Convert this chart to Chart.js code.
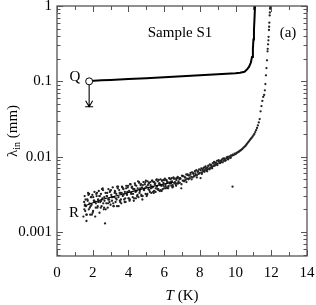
<!DOCTYPE html>
<html>
<head>
<meta charset="utf-8">
<script src="https://cdn.jsdelivr.net/npm/chart.js@4/dist/chart.umd.min.js"></script>
<style>
body { margin: 0; background: #fff; }
</style>
</head>
<body>
<canvas id="chart" width="316" height="305"></canvas>
<script>
// curve Q (upper)
const qTemps = [1.85, 2.5, 3, 4, 5, 6, 7, 8, 9, 9.5, 10, 10.25, 10.5, 10.62, 10.75, 10.85, 10.92, 10.97, 11.0, 11.03, 11.06, 11.09];
const qLambda = [0.101, 0.103, 0.104, 0.107, 0.110, 0.113, 0.117, 0.120, 0.124, 0.126, 0.128, 0.130, 0.134, 0.142, 0.155, 0.175, 0.21, 0.27, 0.36, 0.48, 0.68, 1.0];

// open circle + arrow at the start of Q
const qMarkT = [1.8];
const qMarkL = [0.1];
const arrowTo = 0.046;

// curve R (lower), scattered points, run A
const rTempsA = [
  1.48, 1.52, 1.55, 1.58, 1.62, 1.65, 1.70, 1.74, 1.78, 1.82, 1.86, 1.90, 1.94,
  1.98, 2.02, 2.06, 2.10, 2.14, 2.18, 2.22, 2.26, 2.30, 2.34, 2.38, 2.42,
  2.46, 2.50, 2.54, 2.58, 2.62, 2.66, 2.69, 2.72, 2.76, 2.80, 2.84, 2.88, 2.92,
  2.96, 3.00, 3.04, 3.08, 3.12, 3.16, 3.20, 3.24, 3.28, 3.32, 3.36, 3.40, 3.44,
  3.48, 3.52, 3.56, 3.60, 3.64, 3.68, 3.72, 3.76, 3.80, 3.84, 3.88, 3.92,
  3.96, 4.00, 4.04, 4.08, 4.12, 4.16, 4.20, 4.24, 4.28, 4.32, 4.36, 4.40,
  4.44, 4.48, 4.52, 4.56, 4.60, 4.64, 4.68, 4.72, 4.76, 4.80, 4.84, 4.88,
  4.92, 4.96, 5.00, 5.04, 5.08, 5.12, 5.16, 5.20, 5.24, 5.28, 5.32, 5.36,
  5.40, 5.44, 5.48, 5.52, 5.56, 5.60, 5.64, 5.68, 5.72, 5.76, 5.80, 5.84,
  5.88, 5.92, 5.96, 6.00, 6.04, 6.08, 6.12, 6.16, 6.20, 6.24, 6.28, 6.32,
  6.36, 6.40, 6.44, 6.48, 6.52, 6.56, 6.60, 6.64, 6.68, 6.72, 6.76, 6.80,
  6.84, 6.88, 6.92, 6.96, 7.00, 7.04, 7.08, 7.12, 7.16, 7.20, 7.24, 7.28,
  7.32, 7.36, 7.40, 7.44, 7.48, 7.52, 7.56, 7.60, 7.64, 7.68, 7.72, 7.76,
  7.80, 7.84, 7.88, 7.92, 7.96, 8.00, 8.04, 8.08, 8.12, 8.16, 8.20, 8.24, 8.28,
  8.32, 8.36, 8.40, 8.44, 8.48, 8.52, 8.56, 8.60, 8.64, 8.68, 8.72, 8.76,
  8.80, 8.84, 8.88, 8.92, 8.96, 9.00, 9.05, 9.10, 9.15, 9.20, 9.25,
  9.30, 9.35, 9.40, 9.45, 9.50, 9.55, 9.60, 9.65, 9.70, 9.75, 9.83,
  9.80, 9.85, 9.90, 9.95, 10.00, 10.05, 10.10, 10.15, 10.20, 10.25, 10.30, 10.35,
  10.40, 10.45, 10.50, 10.55, 10.60, 10.65, 10.70, 10.75, 10.80, 10.85, 10.90, 10.95,
  11.00, 11.05, 11.10, 11.15, 11.20, 11.25, 11.30, 11.35, 11.40, 11.45, 11.50, 11.55,
  11.60, 11.64, 11.67, 11.70, 11.73, 11.76, 11.79, 11.82, 11.85, 11.87, 11.89, 11.91, 11.93
];
const rLambdaA = [
  0.0016, 0.0025, 0.0030, 0.0019, 0.0022, 0.0014, 0.0027, 0.0033, 0.0020, 0.0024, 0.0017, 0.0029, 0.0023,
  0.0031, 0.0019, 0.0026, 0.0034, 0.0016, 0.0024, 0.0030, 0.0021, 0.0027, 0.0035, 0.0018, 0.0025,
  0.0032, 0.0022, 0.0028, 0.0036, 0.0020, 0.0026, 0.0013, 0.0033, 0.0024, 0.0030, 0.0021, 0.0037, 0.0027,
  0.0034, 0.0023, 0.0031, 0.0026, 0.0039, 0.0022, 0.0029, 0.0035, 0.0025, 0.0032, 0.0022, 0.0038, 0.0029,
  0.0036, 0.0026, 0.0033, 0.0024, 0.0040, 0.0030, 0.0037, 0.0027, 0.0034, 0.0025, 0.0041, 0.0031,
  0.0039, 0.0028, 0.0035, 0.0027, 0.0043, 0.0033, 0.0040, 0.0029, 0.0037, 0.0028, 0.0044, 0.0034,
  0.0041, 0.0030, 0.0038, 0.0029, 0.0045, 0.0035, 0.0042, 0.0031, 0.0039, 0.0030, 0.0046, 0.0036,
  0.0043, 0.0032, 0.0040, 0.0031, 0.0047, 0.0037, 0.0045, 0.0034, 0.0042, 0.0033, 0.0048, 0.0039,
  0.0046, 0.0035, 0.0043, 0.0034, 0.0049, 0.0040, 0.0047, 0.0036, 0.0044, 0.0035, 0.0050, 0.0041,
  0.0048, 0.0037, 0.0045, 0.0038, 0.0051, 0.0042, 0.0049, 0.0039, 0.0046, 0.0040, 0.0052, 0.0044,
  0.0050, 0.0041, 0.0047, 0.0042, 0.0053, 0.0045, 0.0051, 0.0043, 0.0049, 0.0044, 0.0054, 0.0047,
  0.0052, 0.0045, 0.0051, 0.0038, 0.0056, 0.0048, 0.0055, 0.0047, 0.0053, 0.0049, 0.0058, 0.0051,
  0.0058, 0.0050, 0.0056, 0.0052, 0.0061, 0.0054, 0.0062, 0.0053, 0.0059, 0.0055, 0.0064, 0.0057,
  0.0066, 0.0057, 0.0063, 0.0059, 0.0068, 0.0061, 0.0052, 0.0070, 0.0062, 0.0067, 0.0064, 0.0072, 0.0066,
  0.0074, 0.0066, 0.0071, 0.0068, 0.0076, 0.0070, 0.0079, 0.0071, 0.0077, 0.0073, 0.0082, 0.0075,
  0.0085, 0.0077, 0.0083, 0.0079, 0.0088, 0.0081, 0.0090, 0.0083, 0.0088, 0.0085, 0.0092,
  0.0094, 0.0088, 0.0093, 0.0090, 0.0097, 0.0099, 0.0094, 0.0100, 0.0097, 0.0104, 0.0040,
  0.0103, 0.0106, 0.0105, 0.0110, 0.0108, 0.0112, 0.0113, 0.0116, 0.0117, 0.0120, 0.0122, 0.0125,
  0.0128, 0.0132, 0.0135, 0.0139, 0.0144, 0.0149, 0.0155, 0.0160, 0.0166, 0.0172, 0.0178, 0.0184,
  0.0192, 0.0200, 0.0212, 0.0225, 0.0240, 0.0260, 0.0285, 0.0315, 0.0400, 0.0470, 0.0550, 0.0620,
  0.066, 0.076, 0.092, 0.12, 0.15, 0.19, 0.25, 0.31, 0.39, 0.48, 0.60, 0.75, 0.92
];

// run B
const rTempsB = [
  1.53, 1.60, 1.67, 1.72, 1.80, 1.88, 1.95, 2.03, 2.09, 2.17, 2.24, 2.31, 2.37, 2.45, 2.52, 2.59,
  2.65, 2.73, 2.81, 2.87, 2.94, 3.02, 3.09, 3.15, 3.23, 3.30, 3.37, 3.45, 3.51, 3.58, 3.66, 3.73,
  3.79, 3.87, 3.94, 4.02, 4.09, 4.15, 4.23, 4.30, 4.38, 4.45, 4.51, 4.59, 4.66, 4.73, 4.81, 4.87,
  4.95, 5.02, 5.09, 5.17, 5.23, 5.31, 5.38, 5.45, 5.53, 5.59, 5.67, 5.74, 5.81, 5.89, 5.95, 6.03,
  6.10, 6.17, 6.25, 6.31, 6.39, 6.46, 6.53, 6.61, 6.67, 6.75, 6.82, 6.89, 6.97, 7.03, 7.11, 7.18,
  7.25, 7.33, 7.39, 7.47, 7.54, 7.61, 7.69, 7.75, 7.83, 7.90, 7.97, 8.05, 8.11, 8.19, 8.26, 8.33,
  8.41, 8.47, 8.55, 8.62, 8.69, 8.77, 8.83, 8.91, 8.98, 9.06, 9.13, 9.21, 9.28, 9.36, 9.43, 9.51,
  9.58, 9.66, 9.73, 11.80, 11.84, 11.88, 11.92, 11.94
];
const rLambdaB = [
  0.0020, 0.0027, 0.0017, 0.0026, 0.0032, 0.0022, 0.0017, 0.0029, 0.0026, 0.0021, 0.0033, 0.0025, 0.0030, 0.0021, 0.0037, 0.0024,
  0.0029, 0.0020, 0.0033, 0.0027, 0.0025, 0.0036, 0.0029, 0.0024, 0.0033, 0.0028, 0.0040, 0.0022, 0.0033, 0.0027, 0.0039, 0.0031,
  0.0025, 0.0038, 0.0034, 0.0028, 0.0043, 0.0032, 0.0038, 0.0026, 0.0042, 0.0035, 0.0031, 0.0046, 0.0038, 0.0030, 0.0042, 0.0036,
  0.0046, 0.0030, 0.0042, 0.0036, 0.0046, 0.0040, 0.0034, 0.0046, 0.0038, 0.0050, 0.0037, 0.0044, 0.0036, 0.0048, 0.0041, 0.0049,
  0.0038, 0.0046, 0.0041, 0.0051, 0.0044, 0.0039, 0.0051, 0.0046, 0.0041, 0.0052, 0.0045, 0.0052, 0.0043, 0.0055, 0.0048, 0.0053,
  0.0046, 0.0057, 0.0051, 0.0058, 0.0050, 0.0061, 0.0055, 0.0060, 0.0053, 0.0064, 0.0060, 0.0066, 0.0059, 0.0070, 0.0063, 0.0070,
  0.0064, 0.0075, 0.0068, 0.0076, 0.0070, 0.0081, 0.0076, 0.0082, 0.0077, 0.0087, 0.0082, 0.0089, 0.0084, 0.0095, 0.0088, 0.0096,
  0.0092, 0.0100, 0.0097, 0.27, 0.35, 0.53, 0.82, 0.97
];

// run C (dense low-T part)
const rTempsC = [
  1.56, 1.64, 1.76, 1.84, 1.92, 2.00, 2.12, 2.20, 2.28, 2.40, 2.48, 2.56, 2.64, 2.78, 2.86, 2.98,
  3.06, 3.18, 3.26, 3.34, 3.42, 3.54, 3.62, 3.70, 3.82, 3.90, 3.98, 4.06, 4.18, 4.26, 4.34, 4.42,
  4.54, 4.62, 4.70, 4.78, 4.90, 4.98, 5.06, 5.14, 5.26, 5.34, 5.42, 5.50, 5.62, 5.70, 5.78, 5.86,
  5.98, 6.06, 6.14, 6.22, 6.34, 6.42, 6.50, 6.58, 6.70, 6.78, 6.86
];
const rLambdaC = [
  0.0023, 0.0017, 0.0031, 0.0021, 0.0029, 0.0018, 0.0025, 0.0032, 0.0022, 0.0030, 0.0026, 0.0038, 0.0021, 0.0030, 0.0024, 0.0035,
  0.0029, 0.0022, 0.0034, 0.0027, 0.0040, 0.0025, 0.0033, 0.0038, 0.0028, 0.0032, 0.0041, 0.0026, 0.0039, 0.0032, 0.0037, 0.0028,
  0.0047, 0.0033, 0.0043, 0.0027, 0.0038, 0.0048, 0.0032, 0.0044, 0.0038, 0.0048, 0.0033, 0.0044, 0.0037, 0.0049, 0.0042, 0.0035,
  0.0049, 0.0040, 0.0048, 0.0038, 0.0046, 0.0052, 0.0040, 0.0045, 0.0052, 0.0044, 0.0050
];

// smooth line drawn through the low-T part of R
const rFitT = [1.5, 2.5, 3.5, 4.5, 5.5, 6.5];
const rFitL = [0.0022, 0.0027, 0.0031, 0.0036, 0.0041, 0.0046];

// axes
const xTicks = [0, 2, 4, 6, 8, 10, 12, 14];
const yTickVals = [1, 0.1, 0.01, 0.001];
const yTickLabels = ['1', '0.1', '0.01', '0.001'];

const SERIF = '"Liberation Serif", "DejaVu Serif", serif';
const toXY = (xs, ys) => xs.map((x, i) => ({ x: x, y: ys[i] }));

const framePlugin = {
  id: 'frame',
  afterDraw(chart) {
    const ctx = chart.ctx;
    const a = chart.chartArea;
    const xs = chart.scales.x, ys = chart.scales.y;
    ctx.save();
    ctx.strokeStyle = '#555';
    ctx.lineWidth = 1.3;
    ctx.strokeRect(a.left, a.top, a.right - a.left, a.bottom - a.top);

    // inward ticks on all four sides
    ctx.lineWidth = 1;
    ctx.beginPath();
    for (let v = 0; v <= 14; v++) {
      const px = Math.round(xs.getPixelForValue(v)) + 0.5;
      const len = v % 2 === 0 ? 6 : 4;
      ctx.moveTo(px, a.bottom); ctx.lineTo(px, a.bottom - len);
      ctx.moveTo(px, a.top); ctx.lineTo(px, a.top + len);
    }
    for (let d = -4; d <= 0; d++) {
      for (let m = 1; m <= 9; m++) {
        const v = m * Math.pow(10, d);
        if (v < ys.min || v > ys.max) continue;
        const py = Math.round(ys.getPixelForValue(v)) + 0.5;
        const len = m === 1 ? 6 : 3.5;
        ctx.moveTo(a.left, py); ctx.lineTo(a.left + len, py);
        ctx.moveTo(a.right, py); ctx.lineTo(a.right - len, py);
      }
    }
    ctx.stroke();

    // arrow under the circle on Q
    const ax = xs.getPixelForValue(qMarkT[0]);
    const ay0 = ys.getPixelForValue(qMarkL[0]) + 3.5;
    const ay1 = ys.getPixelForValue(arrowTo);
    ctx.strokeStyle = '#000';
    ctx.lineWidth = 1.1;
    ctx.beginPath();
    ctx.moveTo(ax, ay0); ctx.lineTo(ax, ay1);
    ctx.moveTo(ax - 3.5, ay1 - 6); ctx.lineTo(ax, ay1); ctx.lineTo(ax + 3.5, ay1 - 6);
    ctx.moveTo(ax - 4, ay1); ctx.lineTo(ax + 4, ay1);
    ctx.stroke();

    // labels inside the plot
    ctx.fillStyle = '#000';
    ctx.textBaseline = 'middle';
    ctx.textAlign = 'center';
    ctx.font = '15px ' + SERIF;
    ctx.fillText('Sample S1', 180, 33);
    ctx.fillText('(a)', 288, 33);
    ctx.fillText('Q', 75, 77);
    ctx.fillText('R', 74, 213);

    // x title: italic T
    ctx.font = 'italic 15px ' + SERIF;
    const wT = ctx.measureText('T').width;
    ctx.font = '15px ' + SERIF;
    const wK = ctx.measureText(' (K)').width;
    let sx = (a.left + a.right) / 2 - (wT + wK) / 2;
    ctx.textAlign = 'left';
    ctx.font = 'italic 15px ' + SERIF;
    ctx.fillText('T', sx, 296);
    ctx.font = '15px ' + SERIF;
    ctx.fillText(' (K)', sx + wT, 296);

    // y title: lambda_in (mm), rotated
    ctx.translate(13, 131);
    ctx.rotate(-Math.PI / 2);
    ctx.font = '15px ' + SERIF;
    const wL = ctx.measureText('\u03bb').width;
    const wMm = ctx.measureText(' (mm)').width;
    ctx.font = '10px ' + SERIF;
    const wIn = ctx.measureText('in').width;
    let tx = -(wL + wIn + wMm) / 2;
    ctx.font = '15px ' + SERIF;
    ctx.fillText('\u03bb', tx, 0);
    ctx.font = '10px ' + SERIF;
    ctx.fillText('in', tx + wL, 4);
    ctx.font = '15px ' + SERIF;
    ctx.fillText(' (mm)', tx + wL + wIn, 0);
    ctx.restore();
  }
};

const rPoints = toXY(rTempsA, rLambdaA)
  .concat(toXY(rTempsB, rLambdaB))
  .concat(toXY(rTempsC, rLambdaC));

new Chart(document.getElementById('chart'), {
  type: 'scatter',
  data: {
    datasets: [
      {
        data: toXY(qMarkT, qMarkL),
        pointRadius: 3.5,
        pointBackgroundColor: '#fff',
        pointBorderColor: '#000',
        pointBorderWidth: 1
      },
      {
        data: toXY(qTemps, qLambda),
        showLine: true,
        borderColor: '#000',
        borderWidth: 2.0,
        pointRadius: 0
      },
      {
        data: toXY(rFitT, rFitL),
        showLine: true,
        borderColor: '#000',
        borderWidth: 1.2,
        pointRadius: 0
      },
      {
        data: rPoints,
        pointRadius: 1.15,
        pointBackgroundColor: '#222',
        pointBorderWidth: 0
      }
    ]
  },
  options: {
    responsive: false,
    animation: false,
    layout: { padding: { top: 6, right: 9, left: 0, bottom: 0 } },
    plugins: { legend: { display: false }, tooltip: { enabled: false } },
    scales: {
      x: {
        type: 'linear',
        min: 0,
        max: 14,
        grid: { display: false, drawTicks: false },
        border: { display: false },
        afterBuildTicks: s => { s.ticks = xTicks.map(v => ({ value: v })); },
        ticks: { color: '#000', font: { family: SERIF, size: 15 }, padding: 8, maxRotation: 0 },
        afterFit: s => { s.height = 49; s.paddingLeft = 0; s.paddingRight = 0; }
      },
      y: {
        type: 'logarithmic',
        min: 0.00048,
        max: 1,
        grid: { display: false, drawTicks: false },
        border: { display: false },
        afterBuildTicks: s => { s.ticks = yTickVals.map(v => ({ value: v })); },
        ticks: {
          color: '#000',
          font: { family: SERIF, size: 15 },
          padding: 5,
          autoSkip: false,
          callback: (v, i) => yTickLabels[i]
        },
        afterFit: s => { s.width = 57; s.paddingTop = 0; s.paddingBottom = 0; }
      }
    }
  },
  plugins: [framePlugin]
});
</script>
</body>
</html>
